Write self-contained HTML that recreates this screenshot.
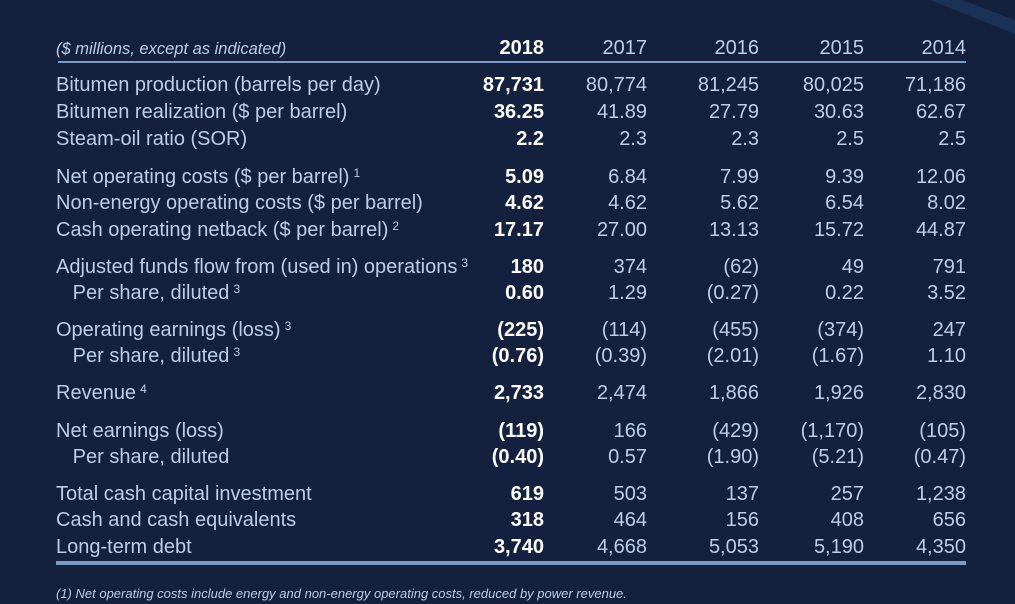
<!DOCTYPE html>
<html><head><meta charset="utf-8"><style>
body{margin:0;width:1015px;height:604px;background:#13213f;overflow:hidden;position:relative;font-family:"Liberation Sans",sans-serif;color:#bccde6}
.t{position:absolute;white-space:nowrap;font-size:20px;line-height:20px}
.l{left:56px}
.n{text-align:right;width:120px}
.b{color:#fff;font-weight:bold}
sup{font-size:12px;vertical-align:top;position:relative;top:-4px;margin-left:4px}
</style></head><body>
<svg width="1015" height="604" style="position:absolute;left:0;top:0">
<polygon points="930,0 962,0 1015,20 1015,34" fill="#1a3255"/>
<rect x="58" y="61" width="908" height="2" fill="#7d9bc4"/>
<rect x="56" y="561" width="910" height="4" fill="#7c9cc4"/>
</svg>
<div class="t l" style="top:39px;font-size:16.5px;font-style:italic">($ millions, except as indicated)</div>
<div id="c"></div>
<div class="t" style="left:56px;top:584px;font-size:13px;font-style:italic">(1) Net operating costs include energy and non-energy operating costs, reduced by power revenue.</div>
<script>
var rows=[
[48,"",["2018","2017","2016","2015","2014"]],
[85,"Bitumen production (barrels per day)",["87,731","80,774","81,245","80,025","71,186"]],
[112,"Bitumen realization ($ per barrel)",["36.25","41.89","27.79","30.63","62.67"]],
[139,"Steam-oil ratio (SOR)",["2.2","2.3","2.3","2.5","2.5"]],
[177,"Net operating costs ($ per barrel)<sup>1</sup>",["5.09","6.84","7.99","9.39","12.06"]],
[203,"Non-energy operating costs ($ per barrel)",["4.62","4.62","5.62","6.54","8.02"]],
[230,"Cash operating netback ($ per barrel)<sup>2</sup>",["17.17","27.00","13.13","15.72","44.87"]],
[267,"Adjusted funds flow from (used in) operations<sup>3</sup>",["180","374","(62)","49","791"]],
[293,"&nbsp;&nbsp;&nbsp;Per share, diluted<sup>3</sup>",["0.60","1.29","(0.27)","0.22","3.52"]],
[330,"Operating earnings (loss)<sup>3</sup>",["(225)","(114)","(455)","(374)","247"]],
[356,"&nbsp;&nbsp;&nbsp;Per share, diluted<sup>3</sup>",["(0.76)","(0.39)","(2.01)","(1.67)","1.10"]],
[393,"Revenue<sup>4</sup>",["2,733","2,474","1,866","1,926","2,830"]],
[431,"Net earnings (loss)",["(119)","166","(429)","(1,170)","(105)"]],
[457,"&nbsp;&nbsp;&nbsp;Per share, diluted",["(0.40)","0.57","(1.90)","(5.21)","(0.47)"]],
[494,"Total cash capital investment",["619","503","137","257","1,238"]],
[520,"Cash and cash equivalents",["318","464","156","408","656"]],
[547,"Long-term debt",["3,740","4,668","5,053","5,190","4,350"]]];
var xs=[544,647,759,864,966],h="";
rows.forEach(function(r){var y=r[0]-10;
if(r[1])h+='<div class="t l" style="top:'+y+'px">'+r[1]+'</div>';
r[2].forEach(function(v,i){h+='<div class="t n'+(i==0?' b':'')+'" style="left:'+(xs[i]-120)+'px;top:'+y+'px">'+v+'</div>';});});
document.getElementById('c').innerHTML=h;
</script>
</body></html>
